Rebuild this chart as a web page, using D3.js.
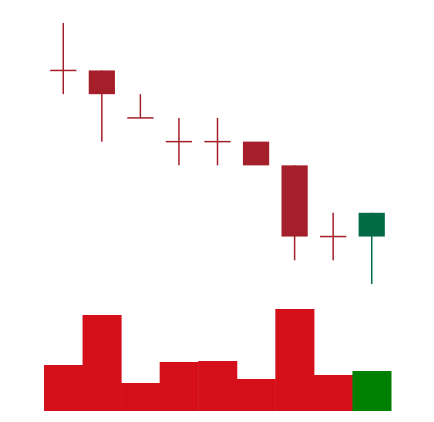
<!DOCTYPE html>
<html>
<head>
<meta charset="utf-8">
<script src="https://cdn.jsdelivr.net/npm/d3@7"></script>
<style>
  html, body { margin: 0; padding: 0; background: #fff; }
</style>
</head>
<body>
<div id="chart"></div>
<script>
// ---------- data ----------
const days   = ["d1", "d2", "d3", "d4", "d5", "d6", "d7", "d8", "d9"];
const open   = [18, 18, 16, 15, 15, 15, 14, 11, 11];
const high   = [20, 18, 17, 16, 16, 15, 14, 12, 12];
const low    = [17, 15, 16, 14, 14, 14, 10, 10,  9];
const close  = [18, 17, 16, 15, 15, 14, 11, 11, 12];
const volume = [46, 96, 28, 49, 50, 32, 102, 36, 40];

const W = 434, H = 422;
const rows = days.map((d, i) => ({ d, o: open[i], h: high[i], l: low[i], c: close[i], v: volume[i] }));

const svg = d3.select("#chart").append("svg").attr("width", W).attr("height", H);

const x = d3.scaleBand().domain(days).range([44, 391]).padding(0);
const y = d3.scaleLinear().domain([9, 20]).range([284, 23]);
const yv = d3.scaleLinear().domain([0, 102]).range([411, 309]);

const upCol = "#006b44", downCol = "#a51f2a";
const volUp = "#008000", volDown = "#d40f1a";
const bodyW = x.bandwidth() * 0.68;
const cx = d => x(d.d) + x.bandwidth() / 2;

// ---------- volume ----------
svg.append("g").selectAll("rect").data(rows).enter().append("rect")
  .attr("x", d => x(d.d))
  .attr("y", d => yv(d.v))
  .attr("width", x.bandwidth() + 0.5)
  .attr("height", d => yv(0) - yv(d.v))
  .attr("fill", d => d.c > d.o ? volUp : volDown);

// ---------- candles ----------
const g = svg.append("g");
const col = d => d.c > d.o ? upCol : downCol;

g.selectAll("line.wick").data(rows).enter().append("line")
  .attr("class", "wick")
  .attr("x1", cx).attr("x2", cx)
  .attr("y1", d => y(d.h)).attr("y2", d => y(d.l))
  .attr("stroke", col).attr("stroke-width", 1.5);

g.selectAll("rect.body").data(rows.filter(d => d.o !== d.c)).enter().append("rect")
  .attr("class", "body")
  .attr("x", d => cx(d) - bodyW / 2)
  .attr("y", d => y(Math.max(d.o, d.c)))
  .attr("width", bodyW)
  .attr("height", d => Math.abs(y(d.o) - y(d.c)))
  .attr("fill", col);

// dojis: open == close -> horizontal tick
g.selectAll("line.doji").data(rows.filter(d => d.o === d.c)).enter().append("line")
  .attr("class", "doji")
  .attr("x1", d => cx(d) - bodyW / 2).attr("x2", d => cx(d) + bodyW / 2)
  .attr("y1", d => y(d.o)).attr("y2", d => y(d.o))
  .attr("stroke", col).attr("stroke-width", 1.5);
</script>
</body>
</html>
